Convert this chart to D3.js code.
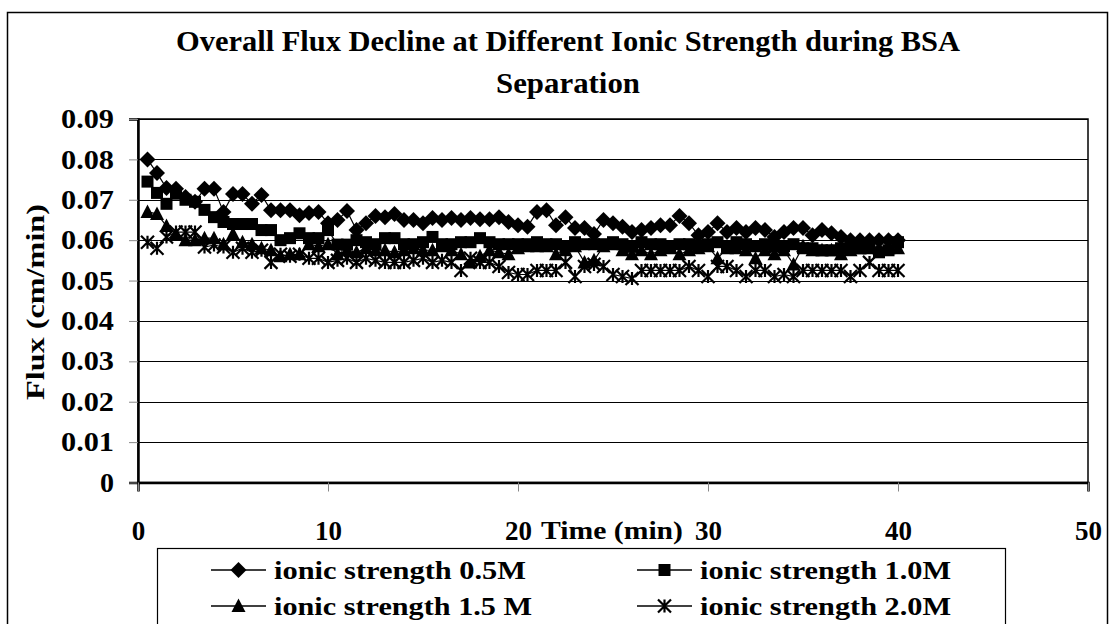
<!DOCTYPE html>
<html><head><meta charset="utf-8">
<script src="https://cdn.jsdelivr.net/npm/d3@7"></script>
<style>html,body{margin:0;padding:0;background:#fff;}svg{display:block;}</style>
</head><body>
<svg id="chart" width="1114" height="624"></svg>
<script>
const times = [0.5,1,1.5,2,2.5,3,3.5,4,4.5,5,5.5,6,6.5,7,7.5,8,8.5,9,9.5,10,
  10.5,11,11.5,12,12.5,13,13.5,14,14.5,15,15.5,16,16.5,17,17.5,18,18.5,19,19.5,20,
  20.5,21,21.5,22,22.5,23,23.5,24,24.5,25,25.5,26,26.5,27,27.5,28,28.5,29,29.5,30,
  30.5,31,31.5,32,32.5,33,33.5,34,34.5,35,35.5,36,36.5,37,37.5,38,38.5,39,39.5,40];

const flux05 = [0.080,0.0766,0.0729,0.0727,0.0707,0.0695,0.0727,0.0727,0.067,0.0714,
  0.0714,0.069,0.0712,0.0674,0.0674,0.0674,0.0662,0.0667,0.067,0.0642,
  0.065,0.0672,0.0625,0.0642,0.066,0.0657,0.0665,0.065,0.065,0.0642,
  0.0655,0.065,0.0655,0.065,0.0655,0.0652,0.0652,0.0657,0.0645,0.0637,
  0.0633,0.067,0.0674,0.0637,0.0657,0.063,0.063,0.0615,0.065,0.0642,
  0.0633,0.062,0.0625,0.063,0.0637,0.0637,0.066,0.0642,0.0612,0.062,
  0.0642,0.062,0.063,0.062,0.063,0.0625,0.0608,0.062,0.063,0.063,
  0.0612,0.0625,0.0617,0.0608,0.060,0.060,0.060,0.060,0.060,0.060];

const flux10 = [0.0745,0.0717,0.069,0.0715,0.070,0.0695,0.0675,0.0657,0.0645,0.064,
  0.064,0.064,0.0625,0.0625,0.060,0.0605,0.0617,0.0605,0.0605,0.0625,
  0.0589,0.0589,0.060,0.0595,0.059,0.0605,0.0605,0.059,0.059,0.0595,
  0.0608,0.059,0.059,0.0595,0.0595,0.0605,0.0595,0.059,0.059,0.059,
  0.059,0.0595,0.059,0.059,0.0585,0.0595,0.059,0.059,0.059,0.0595,
  0.059,0.0585,0.0595,0.059,0.059,0.0585,0.059,0.059,0.0585,0.059,
  0.0595,0.0585,0.0595,0.059,0.0585,0.059,0.0585,0.0585,0.059,0.058,
  0.058,0.0575,0.0575,0.058,0.058,0.058,0.0585,0.057,0.0575,0.0595];

const flux15 = [0.067,0.0665,0.0635,0.0615,0.060,0.060,0.0605,0.0605,0.059,0.0615,
  0.0595,0.059,0.058,0.0575,0.056,0.0565,0.0565,0.059,0.0585,0.059,
  0.0565,0.0575,0.057,0.058,0.0575,0.0575,0.057,0.0575,0.058,0.0575,
  0.0575,0.0585,0.0575,0.0565,0.0545,0.056,0.0575,0.057,0.0565,0.058,
  0.0585,0.0585,0.0585,0.0565,0.0575,0.0585,0.0545,0.055,0.0585,0.059,
  0.0575,0.0565,0.0575,0.0565,0.0575,0.058,0.0565,0.0575,0.058,0.0585,
  0.0555,0.058,0.058,0.0575,0.0555,0.0575,0.0565,0.0575,0.054,0.0585,
  0.0575,0.0575,0.0575,0.0565,0.0575,0.058,0.058,0.058,0.058,0.058];

const flux20 = [0.0595,0.058,0.0608,0.062,0.062,0.062,0.0583,0.0588,0.0583,0.057,
  0.058,0.057,0.0575,0.0545,0.0565,0.056,0.0565,0.0555,0.0555,0.0545,
  0.055,0.0555,0.0545,0.0555,0.055,0.0545,0.0545,0.0545,0.055,0.0555,
  0.0545,0.055,0.0545,0.0525,0.0555,0.0545,0.0545,0.0535,0.052,0.0515,
  0.0515,0.0525,0.0525,0.0525,0.0545,0.051,0.0535,0.054,0.0535,0.0515,
  0.051,0.0505,0.0525,0.0525,0.0525,0.0525,0.0525,0.0535,0.0525,0.051,
  0.0535,0.0535,0.0525,0.051,0.0525,0.0525,0.051,0.0515,0.051,0.0525,
  0.0525,0.0525,0.0525,0.0525,0.051,0.0525,0.0545,0.0525,0.0525,0.0525];

const seriesNames = ["ionic strength 0.5M","ionic strength 1.0M","ionic strength 1.5 M","ionic strength 2.0M"];
const seriesMarkers = ["diamond","square","triangle","star"];
const xTicks = [0,10,20,30,40,50];
const yTicks = [0,0.01,0.02,0.03,0.04,0.05,0.06,0.07,0.08,0.09];
const titleLines = ["Overall Flux Decline at Different Ionic Strength during BSA","Separation"];
const xLabel = "Time (min)";
const yLabel = "Flux (cm/min)";

const seriesData = [flux05, flux10, flux15, flux20];

const svg = d3.select("#chart");
const FONT = "'Liberation Serif','Times New Roman',serif";

// outer chart border
svg.append("rect").attr("x",7.5).attr("y",12.5).attr("width",1100).attr("height",640)
  .attr("fill","none").attr("stroke","#000").attr("stroke-width",1.5);

const L = 138, R = 1088, T = 119, B = 482.5;
const x = d3.scaleLinear().domain([0,50]).range([L,R]);
const y = d3.scaleLinear().domain([0,0.09]).range([B,T]);

// title
const titleW = [784, 144];
svg.append("g").selectAll("text").data(titleLines).join("text")
  .attr("x",568).attr("y",(d,i)=>51+i*42)
  .attr("text-anchor","middle").attr("font-family",FONT).attr("font-weight","bold")
  .attr("font-size",29).attr("textLength",(d,i)=>titleW[i]).attr("lengthAdjust","spacingAndGlyphs")
  .text(d=>d);

// gridlines
svg.append("g").selectAll("line").data(yTicks.slice(1)).join("line")
  .attr("x1",L).attr("x2",R).attr("y1",d=>Math.round(y(d))+0.5).attr("y2",d=>Math.round(y(d))+0.5)
  .attr("stroke","#000").attr("stroke-width",1);

// plot border
svg.append("rect").attr("x",L).attr("y",T).attr("width",R-L).attr("height",B-T)
  .attr("fill","none").attr("stroke","#000").attr("stroke-width",1.5);

// axes
const yAxis = d3.axisLeft(y).tickValues(yTicks).tickSize(9).tickPadding(15)
  .tickFormat(d=> d===0 ? "0" : d3.format(".2f")(d));
const gy = svg.append("g").attr("transform",`translate(${L},0)`).call(yAxis);
gy.select(".domain").attr("stroke","#000").attr("stroke-width",2.5);
gy.selectAll(".tick line").attr("stroke","#888");
gy.selectAll("text").attr("font-family",FONT).attr("font-weight","bold").attr("font-size",27).attr("fill","#000")
  .attr("textLength",d=> d===0 ? 14 : 53).attr("lengthAdjust","spacingAndGlyphs");

const xAxis = d3.axisBottom(x).tickValues(xTicks).tickSize(9).tickPadding(29).tickFormat(d3.format("d"));
const gx = svg.append("g").attr("transform",`translate(0,${B})`).call(xAxis);
gx.select(".domain").attr("stroke","#000").attr("stroke-width",2.5);
gx.selectAll(".tick line").attr("stroke","#888");
gx.selectAll("text").attr("font-family",FONT).attr("font-weight","bold").attr("font-size",27).attr("fill","#000");

// axis labels
svg.append("text").attr("x",612).attr("y",539).attr("text-anchor","middle")
  .attr("font-family",FONT).attr("font-weight","bold").attr("font-size",26)
  .attr("textLength",142).attr("lengthAdjust","spacingAndGlyphs").text(xLabel);
svg.append("text").attr("transform","translate(44,302) rotate(-90)").attr("text-anchor","middle")
  .attr("font-family",FONT).attr("font-weight","bold").attr("font-size",26)
  .attr("textLength",196).attr("lengthAdjust","spacingAndGlyphs").text(yLabel);

// marker drawing
function marker(g, type, cx, cy){
  if(type==="diamond"){
    g.append("path").attr("d",`M${cx},${cy-8}L${cx+8},${cy}L${cx},${cy+8}L${cx-8},${cy}Z`).attr("fill","#000");
  } else if(type==="square"){
    g.append("rect").attr("x",cx-6).attr("y",cy-6).attr("width",12).attr("height",12).attr("fill","#000");
  } else if(type==="triangle"){
    g.append("path").attr("d",`M${cx},${cy-7.5}L${cx+7},${cy+6}L${cx-7},${cy+6}Z`).attr("fill","#000");
  } else if(type==="star"){
    const h=6.5;
    g.append("path").attr("d",`M${cx-h},${cy-h}L${cx+h},${cy+h}M${cx+h},${cy-h}L${cx-h},${cy+h}M${cx},${cy-h}L${cx},${cy+h}`)
      .attr("stroke","#000").attr("stroke-width",2.2).attr("fill","none");
  }
}

const line = d3.line().x(d=>x(d[0])).y(d=>y(d[1]));
const plot = svg.append("g");
seriesData.forEach((vals,si)=>{
  const pts = times.map((t,i)=>[t,vals[i]]);
  const g = plot.append("g");
  g.append("path").datum(pts).attr("d",line).attr("fill","none").attr("stroke","#000").attr("stroke-width",1.2);
  pts.forEach(p=>marker(g, seriesMarkers[si], x(p[0]), y(p[1])));
});

// legend
const leg = svg.append("g");
leg.append("rect").attr("x",157.5).attr("y",548.5).attr("width",848).attr("height",100)
  .attr("fill","#fff").attr("stroke","#000").attr("stroke-width",1.2);
const legPos = [[211,570],[637,570],[211,606],[637,606]];
const legW = [252,251,258,251];
seriesNames.forEach((name,i)=>{
  const [lx,ly] = legPos[i];
  const g = leg.append("g");
  g.append("line").attr("x1",lx).attr("x2",lx+55).attr("y1",ly).attr("y2",ly).attr("stroke","#000").attr("stroke-width",1.5);
  marker(g, seriesMarkers[i], lx+27.5, ly);
  g.append("text").attr("x",lx+63).attr("y",ly+9).attr("font-family",FONT).attr("font-weight","bold")
    .attr("font-size",26).attr("textLength",legW[i]).attr("lengthAdjust","spacingAndGlyphs").text(name);
});
</script>
</body></html>
